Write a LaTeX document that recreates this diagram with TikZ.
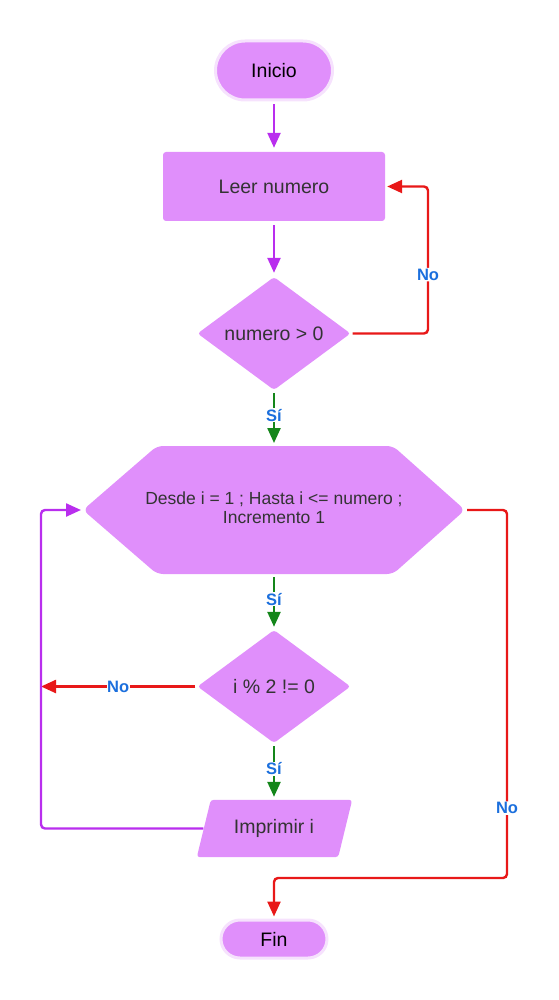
\documentclass[tikz,border=0pt]{standalone}
\usepackage{fontspec}
\setmainfont{Liberation Sans}
\usetikzlibrary{shapes.geometric,shapes.misc,arrows.meta,backgrounds,calc}
\definecolor{fillc}{HTML}{E08FFB}
\definecolor{ringc}{HTML}{F6E2FD}
\definecolor{purp}{HTML}{B92EEE}
\definecolor{redc}{HTML}{E81818}
\definecolor{greenc}{HTML}{14861A}
\definecolor{bluec}{HTML}{1B6FDD}
\definecolor{txt}{HTML}{333333}
\begin{document}
\begin{tikzpicture}[x=1pt,y=-1pt,
  maintext/.style={font=\fontsize{19.5}{23}\selectfont, text=txt},
  term/.style={rounded rectangle, fill=fillc, draw=ringc, line width=3pt, inner sep=0pt, font=\fontsize{19.5}{23}\selectfont, text=black},
  procbox/.style={rectangle, fill=fillc, rounded corners=3pt, inner sep=0pt, maintext},
  decbox/.style={diamond, fill=fillc, rounded corners=3pt, inner sep=0pt, minimum width=153pt, minimum height=113pt, maintext},
  plain/.style={rectangle, inner sep=0pt},
  conn/.style={line width=2.4pt, -{Triangle[length=15pt,width=13pt]}},
  pline/.style={conn, draw=purp},
  rline/.style={conn, draw=redc, rounded corners=4pt},
  gline/.style={conn, draw=greenc},
  lbl/.style={font=\fontsize{16.5}{18}\selectfont\bfseries, text=bluec, fill=white, inner sep=1pt}
]
\useasboundingbox (0,0) rectangle (558,1000);

\node[term, minimum width=117pt, minimum height=59pt] (inicio) at (274,70.5) {Inicio};
\node[procbox, minimum width=222pt, minimum height=69pt] (leer) at (274,186.5) {Leer numero};
\node[decbox] (d1) at (274,333.5) {numero > 0};
\node[plain, minimum width=236pt, minimum height=128pt, align=center,
      font=\fontsize{17.5}{21}\selectfont, text=txt] (hex) at (274,510)
      {\raisebox{4pt}{Desde i = 1 ; Hasta i <= numero ;}\\[-2pt]\raisebox{4pt}{Incremento 1}};
\coordinate (hexL) at ($(hex.center)+(-191,0)$);
\coordinate (hexR) at ($(hex.center)+(191,0)$);
\coordinate (hexT) at ($(hex.center)+(0,-64)$);
\coordinate (hexB) at ($(hex.center)+(0,64)$);
\coordinate (hexTL) at ($(hex.center)+(-117,-64)$);
\coordinate (hexTR) at ($(hex.center)+(119,-64)$);
\coordinate (hexBL) at ($(hex.center)+(-117,64)$);
\coordinate (hexBR) at ($(hex.center)+(119,64)$);
\node[decbox] (d2) at (274,686.5) {i \% 2 != 0};
\node[plain, minimum width=141pt, minimum height=57pt, maintext] (pr) at (274,828.5) {Imprimir i};
\node[term, minimum width=106pt, minimum height=38pt] (fin) at (274,939) {Fin};

\begin{scope}[on background layer]
  \fill[fillc, rounded corners=6pt] (hexTL) -- (hexTR) -- (hexR)
     -- (hexBR) -- (hexBL) -- (hexL) -- cycle;
  \fill[fillc, rounded corners=3pt] ([xshift=7.5pt]pr.north west) -- ([xshift=7.5pt]pr.north east)
     -- ([xshift=-6.5pt]pr.south east) -- ([xshift=-6.5pt]pr.south west) -- cycle;
\end{scope}

\coordinate (xr1) at (428,0);
\coordinate (xr2) at (507,0);
\coordinate (yb) at (0,878);
\coordinate (xl) at (41,0);

% Inicio -> Leer
\draw[pline, shorten <=3pt, shorten >=4pt] (inicio.south) -- (leer.north);
% Leer -> d1
\draw[pline, shorten <=4pt, shorten >=4pt] (leer.south) -- (d1.north);
% d1 No -> Leer
\draw[rline, shorten <=2pt, shorten >=2pt] (d1.east) -- (d1.east -| xr1)
   -- node[lbl, pos=0.4]{No} (leer.east -| xr1) -- (leer.east);
% d1 Si -> hex
\draw[gline, shorten <=3pt, shorten >=3pt] (d1.south) -- node[lbl, pos=0.45]{Sí} (hexT);
% hex No -> Fin
\draw[rline, shorten <=2pt, shorten >=2pt] (hexR) -- (hexR -| xr2)
   -- node[lbl, pos=0.81]{No} (yb -| xr2) -- (yb -| fin.north) -- (fin.north);
% hex Si -> d2
\draw[gline, shorten <=3pt, shorten >=3pt] (hexB) -- node[lbl, pos=0.45]{Sí} (d2.north);
% d2 No -> left line
\draw[conn, draw=redc, shorten <=2pt] (d2.west) -- node[lbl, pos=0.506, inner sep=0.5pt]{No} (d2.west -| xl);
% d2 Si -> pr
\draw[gline, shorten <=3pt, shorten >=3pt] (d2.south) -- node[lbl, pos=0.45]{Sí} (pr.north);
% pr -> hex loop
\draw[pline, rounded corners=4pt, shorten >=2pt] (pr.west) -- (pr.west -| xl) -- (hexL -| xl) -- (hexL);
\end{tikzpicture}
\end{document}
